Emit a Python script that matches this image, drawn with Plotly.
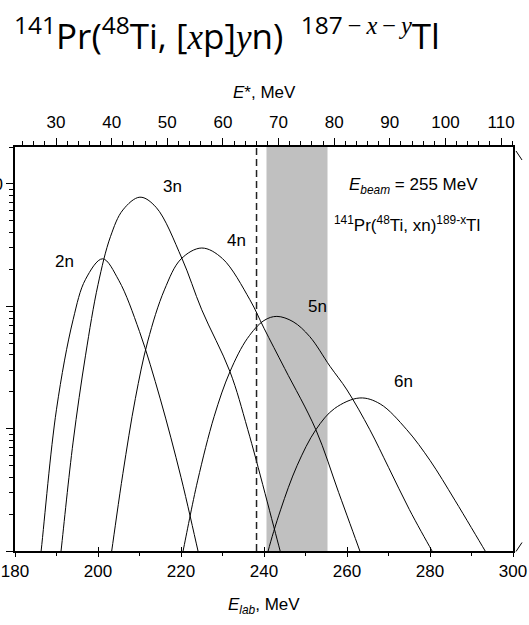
import plotly.graph_objects as go

# ---- data ----
e_2n = [185.3, 186.3, 190, 194, 197, 201.1, 205, 210, 215, 220, 224.1, 226]
s_2n = [0.049, 0.1, 1.44, 7.76, 16.6, 24.4, 16.3, 6.21, 1.75, 0.40, 0.1, 0.052]

e_3n = [190.3, 191.1, 194, 197, 200, 203, 206, 210.1, 214, 220.2, 225, 231.8, 236.1, 243.9, 245.5]
s_3n = [0.056, 0.1, 0.776, 3.98, 15.0, 37.0, 61.2, 77.8, 64.3, 24.7, 9.35, 2.92, 0.98, 0.1, 0.063]

e_4n = [202.5, 203.3, 206, 209, 212, 216, 220, 225, 230, 236.6, 240, 245, 252.5, 258, 263.1, 265]
s_4n = [0.065, 0.1, 0.43, 1.76, 5.19, 13.6, 24.3, 29.9, 24.5, 11.3, 6.61, 3.09, 0.98, 0.30, 0.1, 0.066]

e_5n = [219.7, 220.5, 224, 228, 231.8, 236, 240, 243.1, 247, 251, 255.9, 260, 265.5, 270, 275, 280.5, 283]
s_5n = [0.074, 0.1, 0.374, 1.26, 2.92, 5.46, 7.64, 8.26, 7.48, 5.66, 3.23, 2.07, 0.98, 0.483, 0.219, 0.1, 0.071]

e_6n = [240, 241, 244, 248, 252.5, 257, 263.1, 268, 274.4, 280, 286, 293.3, 295]
s_6n = [0.07, 0.1, 0.217, 0.501, 0.98, 1.46, 1.78, 1.59, 0.98, 0.55, 0.26, 0.1, 0.08]

channels = ["2n", "3n", "4n", "5n", "6n"]
energies = [e_2n, e_3n, e_4n, e_5n, e_6n]
sigmas = [s_2n, s_3n, s_4n, s_5n, s_6n]
label_pos = [(64, 262), (172, 187), (236, 241), (317, 307), (403, 382)]  # pixel centres

barrier = 238.2               # dashed line, E_lab MeV
target_band = [240.6, 255.3]  # shaded energy range, E_lab MeV
xrange_lab = [180, 300]
yrange_log = [-1, 2.301]
y_major = [0.1, 1, 10, 100]
y_minor = [m * d for d in (0.1, 1, 10) for m in range(2, 10)] + [200]
# E* = E_lab * 141/189 - Q
ratio = 141 / 189
Q = 111.66

W, H = 529, 625
L, R, T, B = 15, 16, 147, 73.5
pw, ph = W - L - R, H - T - B


def px(x):
    return (x - L) / pw


def py(y):
    return (H - B - y) / ph


FONT = "Liberation Sans"

fig = go.Figure()

for name, e, s in zip(channels, energies, sigmas):
    fig.add_trace(go.Scatter(x=e, y=s, mode="lines", name=name,
                             line=dict(color="black", width=1, shape="spline", smoothing=1.0),
                             showlegend=False, hoverinfo="skip"))

# dummy traces for the extra axes
fig.add_trace(go.Scatter(x=[xrange_lab[0] * ratio - Q], y=[1], xaxis="x2", mode="markers",
                         marker=dict(opacity=0), showlegend=False, hoverinfo="skip"))
fig.add_trace(go.Scatter(x=[xrange_lab[0]], y=[1], xaxis="x3", mode="markers",
                         marker=dict(opacity=0), showlegend=False, hoverinfo="skip"))

fig.add_shape(type="rect", xref="x", yref="paper", x0=target_band[0], x1=target_band[1],
              y0=0, y1=1, fillcolor="#c0c0c0", line=dict(width=0), layer="below")
fig.add_shape(type="line", xref="x", yref="paper", x0=barrier, x1=barrier, y0=0, y1=1,
              line=dict(color="#222222", width=1.5, dash="7px,4px"))

# right-edge fragments
fig.add_shape(type="line", xref="paper", yref="paper", x0=px(516), x1=px(522), y0=py(151), y1=py(160),
              line=dict(color="black", width=1))
fig.add_shape(type="line", xref="paper", yref="paper", x0=px(516), x1=px(522), y0=py(552), y1=py(543),
              line=dict(color="black", width=1))

ann = []
for name, (xx, yy) in zip(channels, label_pos):
    ann.append(dict(x=px(xx), y=py(yy), xref="paper", yref="paper", text=name, showarrow=False,
                    xanchor="center", yanchor="middle",
                    font=dict(family=FONT, size=17, color="black")))

ann.append(dict(x=px(413), y=py(186), xref="paper", yref="paper", showarrow=False,
                xanchor="center", yanchor="middle",
                text="<i>E</i><sub><i>beam</i></sub> = 255 MeV",
                font=dict(family=FONT, size=17, color="black")))
ann.append(dict(x=px(407), y=py(224), xref="paper", yref="paper", showarrow=False,
                xanchor="center", yanchor="middle",
                text="<sup>141</sup>Pr(<sup>48</sup>Ti, xn)<sup>189-x</sup>Tl",
                font=dict(family=FONT, size=17, color="black")))
ann.append(dict(x=px(264), y=py(92), xref="paper", yref="paper", showarrow=False,
                xanchor="center", yanchor="middle",
                text="<i>E</i>*, MeV", font=dict(family=FONT, size=17, color="black")))
ann.append(dict(x=px(264), y=py(607), xref="paper", yref="paper", showarrow=False,
                xanchor="center", yanchor="middle",
                text="<i>E</i><sub><i>lab</i></sub>, MeV", font=dict(family=FONT, size=17, color="black")))

SER = "<span style=\"font-family:'Liberation Serif'\"><i>{}</i></span>"
MINUS = "<span style=\"font-family:'Liberation Serif'\">\u2009\u2212\u2009</span>"
title = ("<sup>141</sup>Pr(<sup>48</sup>Ti, [" + SER.format("x") + "p]" + SER.format("y") + "n)\u2002"
         "<sup>187" + MINUS + SER.format("x") + MINUS + SER.format("y") + "</sup>Tl")
ann.append(dict(x=px(12), y=py(33), xref="paper", yref="paper", xanchor="left", yanchor="middle",
                showarrow=False, text=title, font=dict(family="Open Sans", size=35, color="black")))

fig.update_layout(
    width=W, height=H, margin=dict(l=L, r=R, t=T, b=B, autoexpand=False),
    paper_bgcolor="white", plot_bgcolor="white",
    annotations=ann,
    xaxis=dict(range=xrange_lab, dtick=20, tick0=180, ticks="outside", ticklen=4, tickwidth=1,
               tickcolor="black", showline=True, linecolor="black", linewidth=1.5, mirror=False,
               showgrid=False, zeroline=False,
               tickfont=dict(family=FONT, size=17, color="black"),
               minor=dict(dtick=10, tick0=180, ticks="outside", ticklen=3, tickcolor="black", showgrid=False)),
    xaxis3=dict(range=xrange_lab, overlaying="x", side="bottom", anchor="y", dtick=20, tick0=180,
                ticks="inside", ticklen=4, tickwidth=1, tickcolor="black", showticklabels=False,
                showline=False, showgrid=False, zeroline=False),
    xaxis2=dict(range=[xrange_lab[0] * ratio - Q, xrange_lab[1] * ratio - Q], overlaying="x", side="top",
                dtick=10, tick0=0, ticks="outside", ticklen=7, tickwidth=1, tickcolor="black",
                showline=True, linecolor="black", linewidth=1.5, showgrid=False, zeroline=False,
                tickfont=dict(family=FONT, size=17, color="black"), ticklabelstandoff=3,
                minor=dict(dtick=2, tick0=0, ticks="outside", ticklen=4, tickcolor="black", showgrid=False)),
    yaxis=dict(type="log", range=yrange_log, ticks="outside", ticklen=7, tickwidth=1, tickcolor="black",
               showline=True, linecolor="black", linewidth=1.5, mirror=True, showgrid=False, zeroline=False,
               tickvals=y_major, ticktext=["", "", "", "100"],
               tickfont=dict(family=FONT, size=17, color="black"),
               minor=dict(tickvals=y_minor, ticks="outside", ticklen=4, tickcolor="black", showgrid=False)),
)

fig.write_html("out.html")
